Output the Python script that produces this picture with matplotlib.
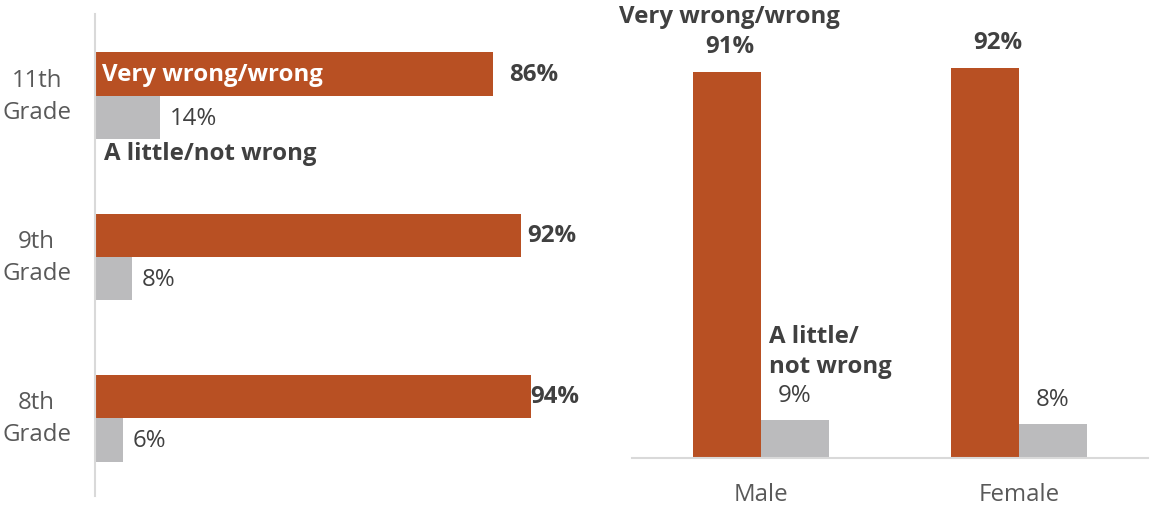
import matplotlib.pyplot as plt
import numpy as np

plt.rcParams['font.family'] = ['Open Sans', 'DejaVu Sans']

# left panel: grade
grades = ['11th\nGrade', '9th\nGrade', '8th\nGrade']
grade_wrong = [86, 92, 94]
grade_not = [14, 8, 6]

# right panel: gender
genders = ['Male', 'Female']
gender_wrong = [91, 92]
gender_not = [9, 8]

ORANGE = '#B85023'
GRAY = '#BBBBBD'
DARK = '#404040'
LABEL = '#595959'
LINE = '#D9D9D9'
FS = 17.3

# label nudges (pixels), as placed in the original
grade_pad = [16, 6, 0]
gender_pad = [3, 13]

fig = plt.figure(figsize=(11.64, 5.10), dpi=100)
W, H = 1164, 510

# ---- left: horizontal bars
ax1 = fig.add_axes([95 / W, (H - 497) / H, 505 / W, 482 / H])
y = np.arange(len(grades))
h = 0.27
ax1.barh(y - h / 2, grade_wrong, height=h, color=ORANGE)
ax1.barh(y + h / 2, grade_not, height=h, color=GRAY)
ax1.set_ylim(2.484, -0.509)
ax1.set_xlim(0, 109)
for s in ['top', 'right', 'bottom']:
    ax1.spines[s].set_visible(False)
ax1.spines['left'].set_color(LINE)
ax1.spines['left'].set_linewidth(1.5)
ax1.set_xticks([])
ax1.set_yticks(y)
ax1.set_yticklabels(grades, fontsize=FS, color=LABEL, ha='center', va='center',
                    linespacing=1.4)
ax1.tick_params(axis='y', length=0, pad=42)

for i in range(len(grades)):
    ax1.annotate('{:d}%'.format(grade_wrong[i]), (grade_wrong[i], y[i] - h / 2),
                 xytext=(grade_pad[i], 0), textcoords='offset pixels', ha='left', va='center',
                 fontsize=FS, fontweight='bold', color=DARK)
    ax1.annotate('{:d}%'.format(grade_not[i]), (grade_not[i], y[i] + h / 2),
                 xytext=(10, 0), textcoords='offset pixels', ha='left', va='center',
                 fontsize=FS, color=DARK)

ax1.annotate('Very wrong/wrong', (0, y[0] - h / 2), xytext=(7, 0),
             textcoords='offset pixels', ha='left', va='center',
             fontsize=FS, fontweight='bold', color='white')
ax1.annotate('A little/not wrong', (0, y[0] + h * 1.2), xytext=(9, -5),
             textcoords='offset pixels', ha='left', va='center',
             fontsize=FS, fontweight='bold', color=DARK)

# ---- right: vertical bars
ax2 = fig.add_axes([632 / W, (H - 459) / H, 516 / W, 459 / H])
x = np.arange(len(genders))
w = 0.262
ax2.bar(x - w / 2, gender_wrong, width=w, color=ORANGE)
ax2.bar(x + w / 2, gender_not, width=w, color=GRAY)
ax2.set_xlim(-0.5, 1.5)
ax2.set_ylim(0, 108.3)
for s in ['top', 'right', 'left']:
    ax2.spines[s].set_visible(False)
ax2.spines['bottom'].set_color(LINE)
ax2.spines['bottom'].set_linewidth(1.5)
ax2.set_yticks([])
ax2.set_xticks(x)
ax2.set_xticklabels(genders, fontsize=FS, color=LABEL)
ax2.tick_params(axis='x', length=0, pad=17)

for i in range(len(genders)):
    ax2.annotate('{:d}%'.format(gender_wrong[i]), (x[i] - w / 2, gender_wrong[i]),
                 xytext=(gender_pad[i], 14), textcoords='offset pixels', ha='center', va='bottom',
                 fontsize=FS, fontweight='bold', color=DARK)
    ax2.annotate('{:d}%'.format(gender_not[i]), (x[i] + w / 2, gender_not[i]),
                 xytext=(0, 13), textcoords='offset pixels', ha='center', va='bottom',
                 fontsize=FS, color=DARK)

ax2.annotate('Very wrong/wrong', (x[0] - w / 2, gender_wrong[0]), xytext=(2, 44),
             textcoords='offset pixels', ha='center', va='bottom',
             fontsize=FS, fontweight='bold', color=DARK)
ax2.annotate('A little/\nnot wrong', (x[0], gender_not[0]), xytext=(8, 42),
             textcoords='offset pixels', ha='left', va='bottom', linespacing=1.3,
             fontsize=FS, fontweight='bold', color=DARK)

fig.savefig('out.png', dpi=100)
